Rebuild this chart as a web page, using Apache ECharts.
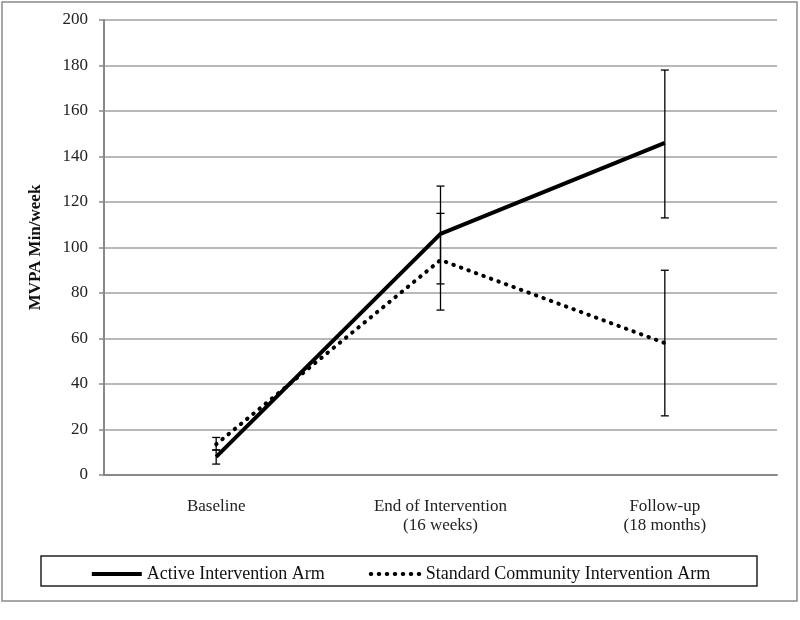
<!DOCTYPE html>
<html>
<head>
    <meta charset="utf-8">
    <title>MVPA</title>
    <script src="https://cdn.jsdelivr.net/npm/echarts@6/dist/echarts.min.js"></script>
    <style>
        body { margin: 0; background: #fff; }
    </style>
</head>
<body>
<div id="main" style="width: 800px;height:620px;"></div>
<script type="text/javascript">
    var categories = ['Baseline', 'End of Intervention\n(16 weeks)', 'Follow-up\n(18 months)'];
    var yTicks = [0, 20, 40, 60, 80, 100, 120, 140, 160, 180, 200];

    var activeMean = [8, 106, 146];
    var activeLow = [4.8, 84, 113];
    var activeHigh = [11, 127, 178];

    var standardMean = [13.5, 94.5, 58];
    var standardLow = [11, 72.5, 26];
    var standardHigh = [16.5, 115, 90];

    var font = 'Liberation Serif';

    // error bar rows: [categoryIndex, low, high]
    function errRows(low, high) {
        var rows = [];
        for (var i = 0; i < low.length; i++) rows.push([i, low[i], high[i]]);
        return rows;
    }

    function renderErr(params, api) {
        var x = api.value(0);
        var lo = api.coord([x, api.value(1)]);
        var hi = api.coord([x, api.value(2)]);
        var w = 4;
        var st = { stroke: '#000', lineWidth: 1.3 };
        return {
            type: 'group',
            children: [
                { type: 'line', shape: { x1: lo[0], y1: lo[1], x2: hi[0], y2: hi[1] }, style: st },
                { type: 'line', shape: { x1: lo[0] - w, y1: lo[1], x2: lo[0] + w, y2: lo[1] }, style: st },
                { type: 'line', shape: { x1: hi[0] - w, y1: hi[1], x2: hi[0] + w, y2: hi[1] }, style: st }
            ]
        };
    }

    var chart = echarts.init(document.getElementById('main'));
    var option = {
        backgroundColor: '#fff',
        animation: false,
        textStyle: { fontFamily: font, color: '#222' },
        graphic: [
            { type: 'rect', shape: { x: 2, y: 2, width: 795, height: 599 },
              style: { fill: null, stroke: '#8a8a8a', lineWidth: 1.5 }, z: -1 },
            { type: 'rect', shape: { x: 41, y: 556, width: 716, height: 30 },
              style: { fill: null, stroke: '#222', lineWidth: 1.5 } }
        ],
        legend: {
            left: 'center',
            top: 560,
            itemWidth: 50,
            itemHeight: 12,
            itemGap: 44,
            itemStyle: { opacity: 0 },
            lineStyle: { width: 'inherit' },
            textStyle: { fontFamily: font, fontSize: 18, color: '#111' },
            data: ['Active Intervention Arm', 'Standard Community Intervention Arm']
        },
        grid: { left: 104, right: 23, top: 20, bottom: 145 },
        xAxis: {
            type: 'category',
            data: categories,
            axisLine: { lineStyle: { color: '#888', width: 2 } },
            axisTick: { alignWithLabel: false, length: 5, lineStyle: { color: '#888', width: 1.5 } },
            axisLabel: { fontFamily: font, fontSize: 17, color: '#222', margin: 22, lineHeight: 19 }
        },
        yAxis: {
            type: 'value',
            min: 0,
            max: 200,
            interval: 20,
            name: 'MVPA Min/week',
            nameLocation: 'middle',
            nameGap: 60,
            nameTextStyle: { fontFamily: font, fontSize: 17, fontWeight: 'bold', color: '#111' },
            axisLine: { show: true, lineStyle: { color: '#888', width: 2 } },
            axisTick: { show: true, length: 5, lineStyle: { color: '#888', width: 1.5 } },
            axisLabel: {
                fontFamily: font, fontSize: 17, color: '#222', margin: 16,
                formatter: function (v) { return yTicks.indexOf(v) >= 0 ? String(v) : ''; }
            },
            splitLine: { show: true, lineStyle: { color: '#a0a0a0', width: 1.5 } }
        },
        series: [
            {
                name: 'Active Intervention Arm',
                type: 'line',
                data: activeMean,
                symbol: 'none',
                color: '#000',
                lineStyle: { color: '#000', width: 4 },
                z: 3
            },
            {
                name: 'Standard Community Intervention Arm',
                type: 'line',
                data: standardMean,
                symbol: 'none',
                color: '#000',
                lineStyle: { color: '#000', width: 4, type: [0.5, 7.5], cap: 'round' },
                z: 3
            },
            {
                type: 'custom',
                renderItem: renderErr,
                data: errRows(activeLow, activeHigh),
                encode: { x: 0, y: [1, 2] },
                z: 4
            },
            {
                type: 'custom',
                renderItem: renderErr,
                data: errRows(standardLow, standardHigh),
                encode: { x: 0, y: [1, 2] },
                z: 4
            }
        ]
    };
    chart.setOption(option);
</script>
</body>
</html>
